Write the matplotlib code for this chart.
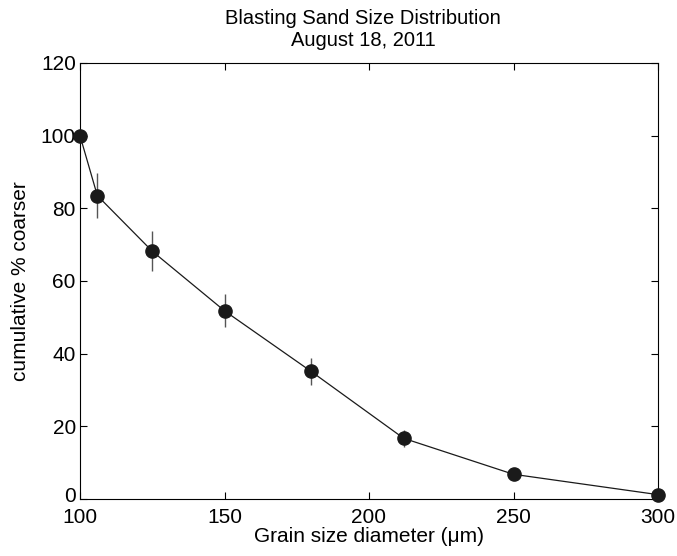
import matplotlib
matplotlib.use("Agg")
import matplotlib.pyplot as plt
import matplotlib.transforms as mtransforms

plt.rcParams['font.family'] = ['Liberation Sans', 'DejaVu Sans']

grain_size = [100, 106, 125, 150, 180, 212, 250, 300]
pct_coarser = [100.0, 83.5, 68.2, 51.8, 35.1, 16.7, 6.8, 1.2]
err = [0.0, 6.1, 5.5, 4.5, 3.7, 2.4, 0.8, 0.0]
xticks = [100, 150, 200, 250, 300]
yticks = [0, 20, 40, 60, 80, 100, 120]

fig = plt.figure(figsize=(6.77, 5.56), dpi=100)
ax = fig.add_axes([80/677, 1 - 499/556, (658-80)/677, (499-63)/556])
ax.errorbar(grain_size, pct_coarser, yerr=err, fmt='-', color='#1a1a1a', lw=0.9,
            ecolor='#555555', elinewidth=1.0, capsize=0, marker='o',
            markersize=9.5, markerfacecolor='#1a1a1a', markeredgecolor='#1a1a1a',
            clip_on=False, zorder=3)
ax.set_xlim(100, 300)
ax.set_ylim(0, 120)
ax.set_xticks(xticks)
ax.set_yticks(yticks)
ax.tick_params(direction='in', top=True, right=True, length=5, labelsize=15, width=0.8)
ax.tick_params(axis='y', pad=3)
ax.tick_params(axis='x', pad=6.5)
for s in ax.spines.values():
    s.set_linewidth(0.8)
ax.set_xlabel('Grain size diameter (μm)', fontsize=15, labelpad=0)
ax.set_ylabel('cumulative % coarser', fontsize=15, labelpad=8)
ax.set_title('Blasting Sand Size Distribution\nAugust 18, 2011', fontsize=14.5, pad=12, linespacing=1.2, x=0.49)

fig.canvas.draw()
ylab0 = ax.get_yticklabels()[0]
ylab0.set_transform(ylab0.get_transform() + mtransforms.ScaledTranslation(0, 4/100, fig.dpi_scale_trans))

fig.savefig('out.png', dpi=100)
